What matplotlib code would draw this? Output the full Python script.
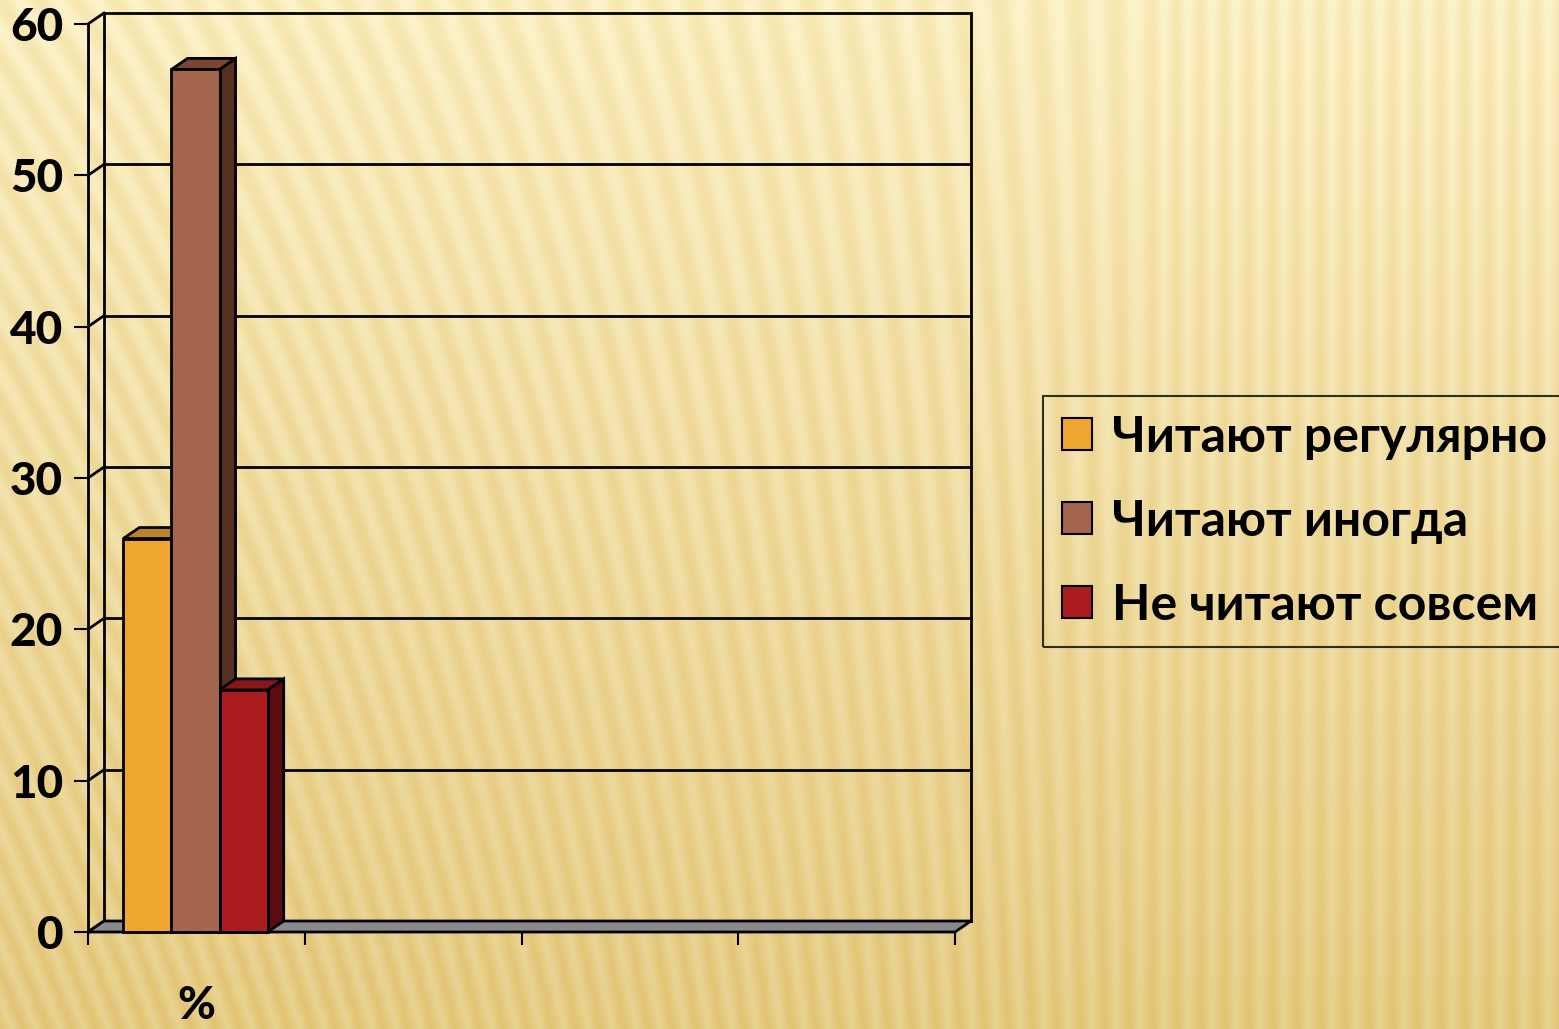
import numpy as np
import matplotlib
matplotlib.use("Agg")
import matplotlib.pyplot as plt
from matplotlib.patches import Polygon, Patch

# ---- data ----
categories = ["%", "", "", ""]
series_names = ["Читают регулярно", "Читают иногда", "Не читают совсем"]
series_values = [26, 57, 16]          # values for the first category ("%")
y_ticks = [0, 10, 20, 30, 40, 50, 60]

# ---- style ----
front_colors = ["#EFA631", "#A3654E", "#AB1C1F"]
top_colors = ["#BA822B", "#7A4532", "#8A1718"]
side_colors = ["#8C5E1C", "#553020", "#5A0D0E"]
FONT = "Lato"
plt.rcParams["font.family"] = [FONT, "DejaVu Sans"]

W, H = 1559, 1029
fig = plt.figure(figsize=(W / 100, H / 100), dpi=100)

# background: cream gradient with stripes
bg = fig.add_axes([0, 0, 1, 1], zorder=-10)
yy, xx = np.mgrid[0:H, 0:W].astype(float)
t = (yy / H)[..., None]
top = np.array([253, 243, 203], float)
bot = np.array([232, 208, 142], float)
base = top * (1 - t) + bot * t
k = 0.42 * np.clip(1 - xx / 1150, 0, 1)
phase = (xx + k * (H - yy)) / 24.0
s = (0.5 + 0.5 * np.cos(2 * np.pi * phase))[..., None]
img = base - s * np.array([6, 12, 26], float)
img = np.clip(img, 0, 255) / 255.0
bg.imshow(img, aspect="auto", extent=[0, 1, 0, 1], interpolation="bilinear")
bg.set_axis_off()

# main axes: front plane
ax_l, ax_r, ax_top, ax_bot = 88, 955, 24, 932
ax = fig.add_axes([ax_l / W, (H - ax_bot) / H, (ax_r - ax_l) / W, (ax_bot - ax_top) / H])
ax.patch.set_alpha(0)
n_cat = len(categories)
ax.set_xlim(0, n_cat)
ax.set_ylim(0, 60)

px_x = (ax_r - ax_l) / n_cat      # pixels per x unit
px_y = (ax_bot - ax_top) / 60.0   # pixels per y unit
DX = 16 / px_x
DY = 11 / px_y

LW = 2.0
# floor
floor = Polygon([(0, 0), (n_cat, 0), (n_cat + DX, DY), (DX, DY)], closed=True,
                facecolor="#8A8A8A", edgecolor="black", lw=LW, clip_on=False, zorder=1)
ax.add_patch(floor)
# back wall gridlines and outline
for v in y_ticks:
    ax.plot([DX, n_cat + DX], [v + DY, v + DY], color="black", lw=LW, clip_on=False, zorder=0.5)
    ax.plot([0, DX], [v, v + DY], color="black", lw=LW, clip_on=False, zorder=0.5)
ax.plot([DX, DX], [DY, 60 + DY], color="black", lw=LW, clip_on=False, zorder=0.5)
ax.plot([n_cat + DX, n_cat + DX], [DY, 60 + DY], color="black", lw=LW, clip_on=False, zorder=0.5)

# bars
bw = 0.222
center = 0.496
n_s = len(series_values)
for i, v in enumerate(series_values):
    x0 = center + (i - (n_s - 1) / 2) * bw - bw / 2
    x1 = x0 + bw
    z = 2 + i
    side = Polygon([(x1, 0), (x1, v), (x1 + DX, v + DY), (x1 + DX, DY)], closed=True,
                   facecolor=side_colors[i], edgecolor="black", lw=LW, clip_on=False, zorder=z)
    topf = Polygon([(x0, v), (x1, v), (x1 + DX, v + DY), (x0 + DX, v + DY)], closed=True,
                   facecolor=top_colors[i], edgecolor="black", lw=LW, clip_on=False, zorder=z)
    ax.add_patch(side)
    ax.add_patch(topf)
    ax.bar([x0 + bw / 2], [v], width=bw, color=front_colors[i], edgecolor="black",
           lw=LW, zorder=z + 0.5, clip_on=False)

# axes styling
for sp in ["top", "right", "bottom"]:
    ax.spines[sp].set_visible(False)
ax.spines["left"].set_linewidth(LW)
ax.spines["left"].set_zorder(6)
ax.set_yticks(y_ticks)
ax.set_yticklabels([str(v) for v in y_ticks])
ax.tick_params(axis="y", length=10, width=1.5, pad=8, labelsize=33)
for lab in ax.get_yticklabels():
    lab.set_fontweight("black")

ax.set_xticks(range(n_cat + 1))
ax.set_xticklabels([""] * (n_cat + 1))
ax.tick_params(axis="x", which="major", length=9, width=1.5)
ax.set_xticks([c + 0.5 for c in range(n_cat)], minor=True)
ax.set_xticklabels(categories, minor=True)
ax.tick_params(axis="x", which="minor", length=0, pad=38, labelsize=33)
for lab in ax.get_xticklabels(minor=True):
    lab.set_fontweight("black")

# legend
handles = [Patch(facecolor=c, edgecolor="black", lw=1.5) for c in front_colors]
leg = fig.legend(handles, series_names, loc="center left",
                 bbox_to_anchor=(1043 / W, (H - 521) / H),
                 prop={"family": [FONT, "DejaVu Sans"], "weight": "bold", "size": 36},
                 frameon=True, fancybox=False, handlelength=0.6, handleheight=0.6,
                 handletextpad=0.4, labelspacing=0.78, borderpad=0.38, borderaxespad=0)
leg.get_frame().set_edgecolor("black")
leg.get_frame().set_linewidth(1.5)
leg.get_frame().set_facecolor("none")

fig.savefig("out.png", dpi=100)
